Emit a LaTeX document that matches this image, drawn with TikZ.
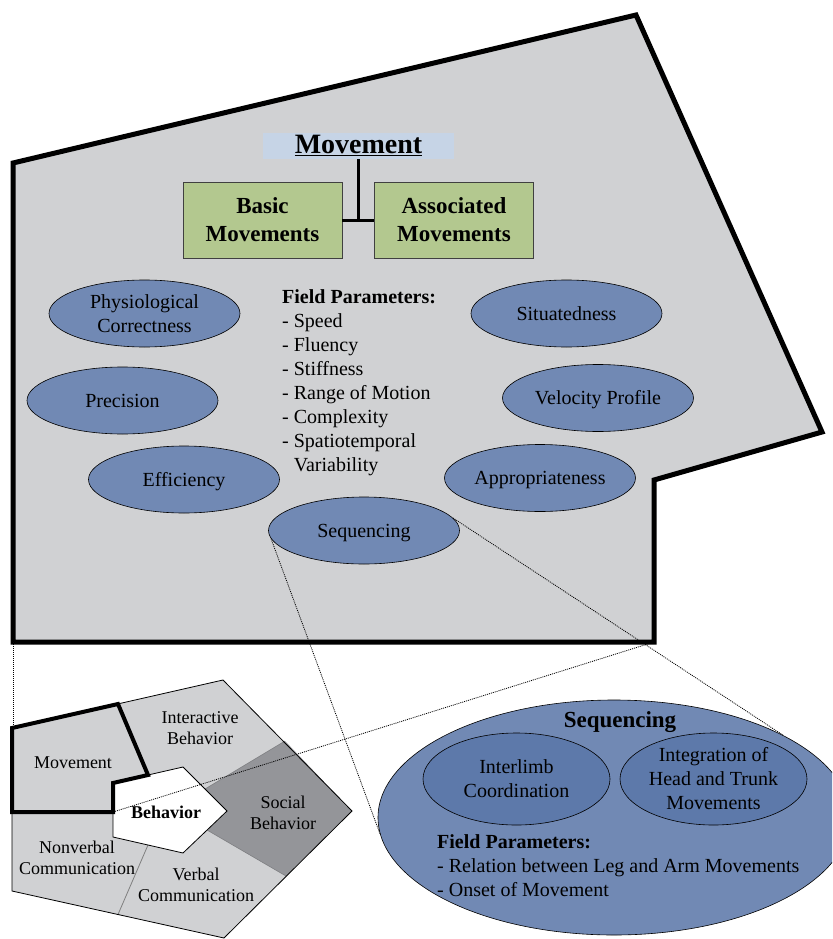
\documentclass[tikz,border=0pt]{standalone}
\usepackage{fontspec}
\setmainfont{Liberation Serif}
\usetikzlibrary{shapes.geometric}
\definecolor{panelgray}{HTML}{D0D1D3}
\definecolor{ovalblue}{HTML}{7189B4}
\definecolor{innerblue}{HTML}{5D79AA}
\definecolor{socialgray}{HTML}{949599}
\definecolor{boxgreen}{HTML}{B3C88F}
\definecolor{titleblue}{HTML}{C6D4E6}
\begin{document}
\begin{tikzpicture}[x=1pt,y=-1pt,
  every node/.style={font=\fontsize{20}{24}\selectfont, inner sep=0pt},
  oval/.style={ellipse, draw=black, line width=0.6pt, fill=ovalblue,
    minimum width=191pt, minimum height=67pt, align=center},
  oneline/.style={text height=13.7pt, text depth=0pt},
  inneroval/.style={ellipse, draw=black, line width=0.6pt, fill=innerblue,
    minimum width=187pt, minimum height=92pt, align=center},
  greenbox/.style={rectangle, draw=black!75, line width=0.6pt, fill=boxgreen,
    minimum width=159pt, minimum height=76pt, align=center,
    font=\bfseries\fontsize{23}{28}\selectfont},
  smalltext/.style={align=center, font=\fontsize{18}{21}\selectfont},
  zoomline/.style={line width=0.8pt, dash pattern=on 1pt off 1pt},
  heavy/.style={line width=5pt, line join=miter},
]
\useasboundingbox (0,0) rectangle (832,939);

% ---------- main panel ----------
\draw[heavy, fill=panelgray] (13,163) -- (636,15) -- (822,432) -- (654,480)
  -- (654,642) -- (13,642) -- cycle;

\node[fill=titleblue, minimum width=191pt, minimum height=26pt,
  text height=19pt, text depth=4pt,
  font=\bfseries\fontsize{28}{30}\selectfont] (title) at (358.5,146) {\underline{Movement}};
\node[greenbox] (basic) at (262.5,220) {Basic\\Movements};
\node[greenbox] (assoc) at (454,220) {Associated\\Movements};
\draw[line width=3pt] (title.south) -- (title.south |- basic.east);
\draw[line width=3pt] (basic.east) -- (assoc.west);

\node[oval] (phys) at (144.5,313.5) {Physiological\\Correctness};
\node[oval, oneline] (prec) at (122.5,400.5) {Precision};
\node[oval, oneline] (eff)  at (184,479.5) {Efficiency};
\node[oval, oneline] (seq)  at (364,530.5) {Sequencing};
\node[oval, oneline] (sit)  at (566.5,313.5) {Situatedness};
\node[oval, oneline] (vel)  at (598,398) {Velocity Profile};
\node[oval, oneline] (app)  at (540,478) {Appropriateness};

\node[anchor=north west, align=left] (fp) at (282,289.3)
  {\textbf{Field Parameters:}\\- Speed\\- Fluency\\- Stiffness\\- Range of Motion\\- Complexity\\- Spatiotemporal\\\phantom{-} Variability};

% ---------- small behavior pentagon ----------
\fill[panelgray] (12,728) -- (223,680) -- (352,811) -- (224,938) -- (12,891) -- cycle;
\fill[socialgray] (205,789) -- (285,741) -- (352,811) -- (286,876) -- (207,830) -- cycle;
\draw[socialgray!85!black, line width=0.6pt] (205,789) -- (285,741);
\draw[socialgray!85!black, line width=0.6pt] (207,830) -- (286,876);
\draw[black!50, line width=0.8pt] (148,845) -- (118,914.5);
\draw[line width=0.8pt, line join=miter] (12,728) -- (223,680) -- (352,811) -- (224,938) -- (12,891) -- cycle;
\draw[line width=0.8pt, fill=white] (113,783) -- (183,767) -- (227,811) -- (183,853) -- (113,837) -- cycle;
\draw[line width=4pt, line join=miter] (12,728) -- (118,704) -- (148,775) -- (113,783)
  -- (113,812) -- (12,812) -- cycle;

\node[smalltext] (lInter) at (200,728) {Interactive\\Behavior};
\node[smalltext] (lMove) at (73,763) {Movement};
\node[smalltext, font=\bfseries\fontsize{18}{21}\selectfont] (lBeh) at (166,812) {Behavior};
\node[smalltext] (lSoc) at (283,813) {Social\\Behavior};
\node[smalltext] (lNon) at (77,858) {Nonverbal\\Communication};
\node[smalltext] (lVerb) at (196,885) {Verbal\\Communication};

% ---------- big sequencing ellipse ----------
\begin{scope}
\clip (0,0) rectangle (832,939);
\node[ellipse, draw=black, line width=0.6pt, fill=ovalblue,
  minimum width=472pt, minimum height=235pt] (bigseq) at (614,817.5) {};
\end{scope}
\node[anchor=base, font=\bfseries\fontsize{23}{28}\selectfont] (seqtitle) at (620,727) {Sequencing};
\node[inneroval] (inter) at (516.5,779) {Interlimb\\Coordination};
\node[inneroval] (integ) at (713.5,779) {Integration of\\Head and Trunk\\Movements};
\node[anchor=north west, align=left] (fp2) at (437,834.3)
  {\textbf{Field Parameters:}\\- Relation between Leg and Arm Movements\\- Onset of Movement};

% ---------- zoom lines ----------
\coordinate (mainBL) at (13,642);
\coordinate (mainBR) at (654,642);
\coordinate (smallTL) at (13,728);
\coordinate (smallMv) at (113,812);
\draw[zoomline] (mainBL) -- (smallTL);
\draw[zoomline] (mainBR) -- (smallMv);
\draw[zoomline] (seq.185) -- (bigseq.184);
\draw[zoomline] (seq.8) -- (bigseq.26.4);
\end{tikzpicture}
\end{document}
